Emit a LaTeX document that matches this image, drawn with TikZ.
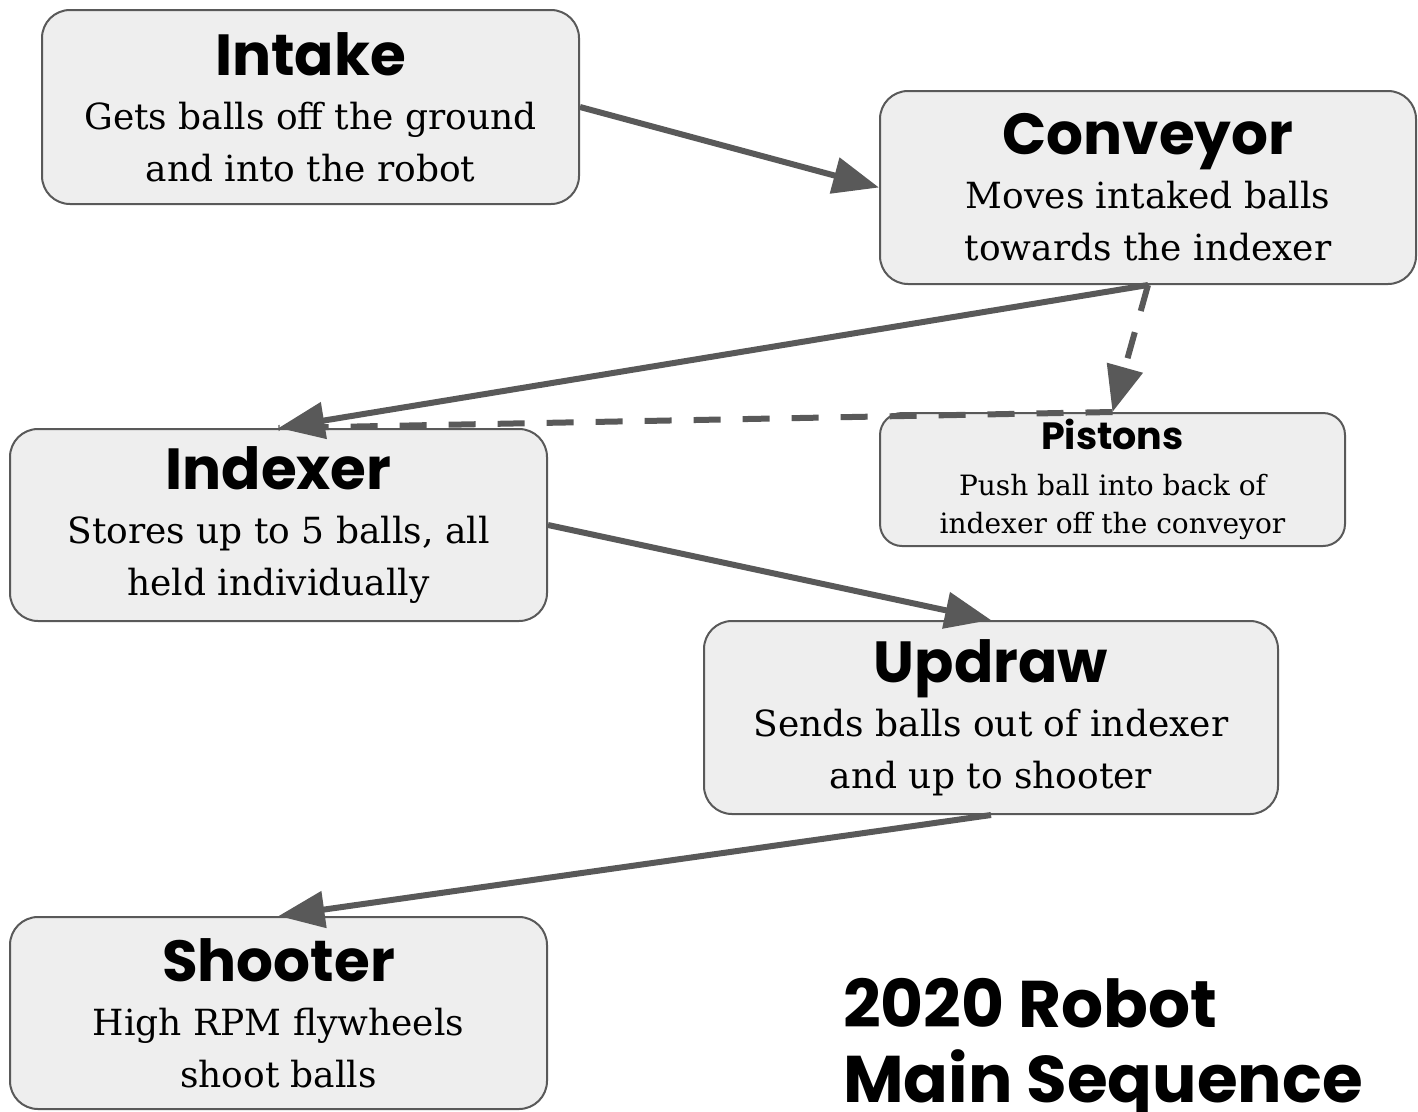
\documentclass[tikz,border=0pt]{standalone}
\usepackage{fontspec}
\setmainfont{DejaVu Serif}
\newfontfamily\headfont{Poppins}
\usetikzlibrary{arrows.meta}
\definecolor{boxfill}{HTML}{EEEEEE}
\definecolor{edge}{HTML}{595959}
\tikzset{
  stagebox/.style={draw=edge, line width=2pt, fill=boxfill, rounded corners=28pt,
    align=center, inner sep=0pt, font=\fontsize{36}{52}\selectfont},
  smallbox/.style={stagebox, rounded corners=22pt, font=\fontsize{28}{38}\selectfont},
  flow/.style={draw=edge, line width=6pt, -{Triangle[length=46pt,width=36pt]}},
  flowdash/.style={flow, dash pattern=on 27pt off 22pt},
  plaindash/.style={draw=edge, line width=6pt, dash pattern=on 27pt off 22pt},
}
\newcommand{\hd}[1]{{\headfont\bfseries\fontsize{58}{62}\selectfont #1}}
\newcommand{\hdsmall}[1]{{\headfont\bfseries\fontsize{38}{46}\selectfont #1}}
\begin{document}
\begin{tikzpicture}[x=1pt,y=-1pt]
\useasboundingbox (0,0) rectangle (1418,1111);
\node[stagebox, minimum width=537pt, minimum height=194pt] (intake) at (310.5,107)
  {\hd{Intake}\\[2pt]Gets balls off the ground\\and into the robot};
\node[stagebox, minimum width=536pt, minimum height=193pt] (conveyor) at (1148,187.5)
  {\hd{Conveyor}\\[2pt]Moves intaked balls\\towards the indexer};
\node[stagebox, minimum width=537pt, minimum height=192pt] (indexer) at (278.5,525)
  {\hd{Indexer}\\[2pt]Stores up to 5 balls, all\\held individually};
\node[smallbox, minimum width=465pt, minimum height=133pt] (pistons) at (1112.5,479.5)
  {\hdsmall{Pistons}\\[8pt]Push ball into back of\\indexer off the conveyor};
\node[stagebox, minimum width=574pt, minimum height=193pt] (updraw) at (991,717.5)
  {\hd{Updraw}\\[2pt]Sends balls out of indexer\\and up to shooter};
\node[stagebox, minimum width=537pt, minimum height=192pt] (shooter) at (278.5,1013)
  {\hd{Shooter}\\[2pt]High RPM flywheels\\shoot balls};
\node[anchor=north west, align=left, inner sep=0pt,
  font=\headfont\bfseries\fontsize{66}{75}\selectfont] (title) at (843,978)
  {2020 Robot\\Main Sequence};
\draw[plaindash] (pistons.north) -- (indexer.north);
\draw[flow] (intake.east) -- (conveyor.west);
\draw[flow] (conveyor.south) -- (indexer.north);
\draw[flowdash] (conveyor.south) -- (pistons.north);
\draw[flow] (indexer.east) -- (updraw.north);
\draw[flow] (updraw.south) -- (shooter.north);
\end{tikzpicture}
\end{document}
